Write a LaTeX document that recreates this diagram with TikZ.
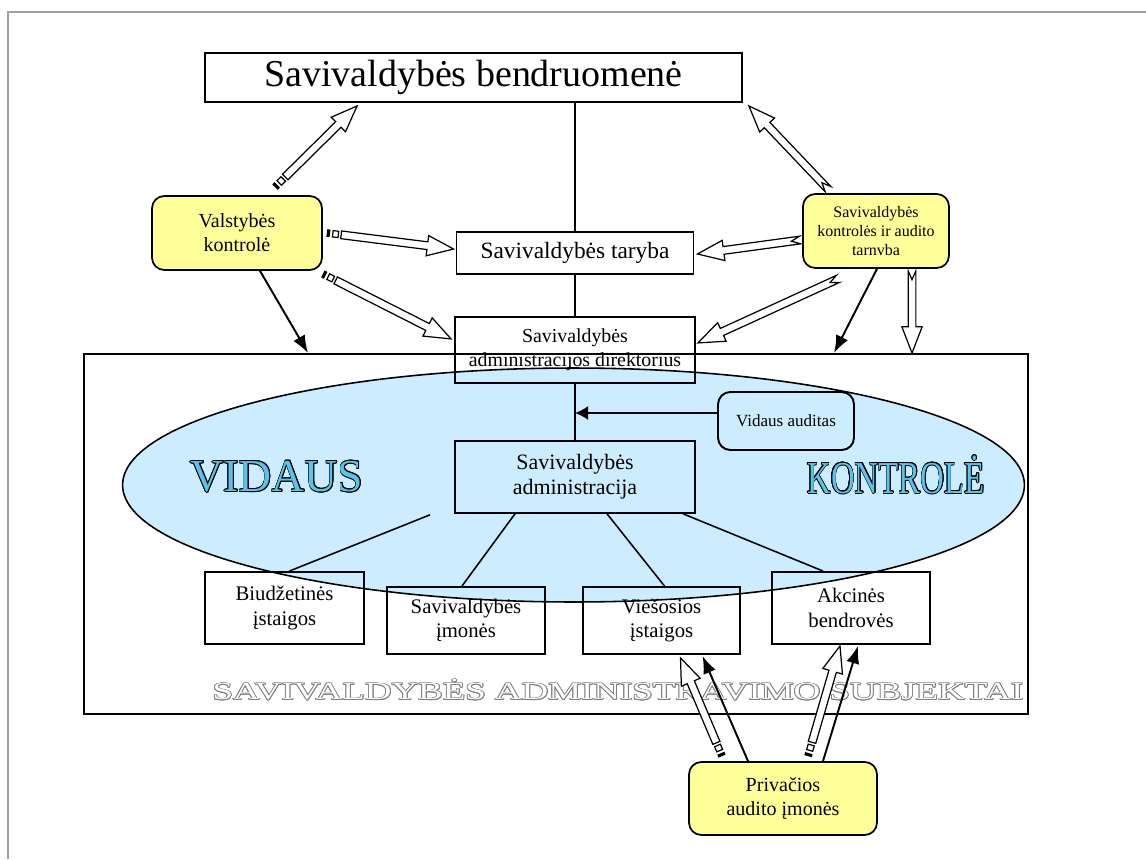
\documentclass[tikz,border=0pt]{standalone}
\usepackage{fontspec}
\setmainfont{Liberation Serif}
\usepackage{tikz}
\usetikzlibrary{arrows.meta, positioning, calc}
\usepackage{xcolor}
\usepackage{contour}
\definecolor{NoteYellow}{HTML}{FFFF99}
\definecolor{InnerBlue}{HTML}{CCECFF}
\definecolor{LetterBlue}{HTML}{5BC2EE}
\definecolor{FrameGrey}{HTML}{A0A0A0}
\definecolor{OutlineGrey}{HTML}{808080}
\newcommand{\fsz}[2]{\fontsize{#1pt}{#2pt}\selectfont}
% hollow block arrow: [notch]{tail}{tip}
\newcommand{\blockarrow}[3][0pt]{%
  \coordinate (ba-h) at ($(#3)!15pt!(#2)$);
  \draw[hollowline]
    ($(#2)!2.2pt!90:(#3)$) -- ($(ba-h)!2.2pt!90:(#3)$) -- ($(ba-h)!5.8pt!90:(#3)$) --
    (#3) --
    ($(ba-h)!5.8pt!-90:(#3)$) -- ($(ba-h)!2.2pt!-90:(#3)$) -- ($(#2)!2.2pt!-90:(#3)$) --
    ($(#2)!#1!(#3)$) -- cycle;
}
% block arrow with a bar and a square at its tail
\newcommand{\stripedarrow}[2]{%
  \coordinate (sa-a) at ($(#1)!1.8pt!(#2)$);
  \coordinate (sa-b) at ($(#1)!3.4pt!(#2)$);
  \coordinate (sa-c) at ($(#1)!6.6pt!(#2)$);
  \coordinate (sa-d) at ($(#1)!8.2pt!(#2)$);
  \fill ($(#1)!2.2pt!90:(#2)$) -- ($(sa-a)!2.2pt!90:(#2)$) -- ($(sa-a)!2.2pt!-90:(#2)$) -- ($(#1)!2.2pt!-90:(#2)$) -- cycle;
  \draw[hollowline] ($(sa-b)!1.8pt!90:(#2)$) -- ($(sa-c)!1.8pt!90:(#2)$) -- ($(sa-c)!1.8pt!-90:(#2)$) -- ($(sa-b)!1.8pt!-90:(#2)$) -- cycle;
  \blockarrow{sa-d}{#2}%
}
\tikzset{
  plainbox/.style={
    rectangle, draw=black, line width=1.1pt,
    align=center, inner sep=0pt
  },
  notebox/.style={
    rectangle, rounded corners=7pt, draw=black, line width=1pt,
    fill=NoteYellow, align=center, inner sep=0pt
  },
  link/.style={line width=0.9pt},
  solidarrow/.style={
    -{Latex[length=10pt, width=7.5pt]},
    line width=1.1pt
  },
  hollowline/.style={draw=black, fill=white, line width=0.7pt, line join=miter},
  bigword/.style={inner sep=0pt, font=\fsz{26}{30}}
}

\begin{document}
\begin{tikzpicture}[x=0.02cm, y=-0.02cm]

% ── Canvas ────────────────────────────────────────────────────────────────────

\useasboundingbox (0,0) rectangle (1146,859);
\draw[FrameGrey, line width=1.4pt] (8,859) -- (8,12) -- (1146,12);

% ── Inner control ellipse and subject frame ───────────────────────────────────

\draw[fill=InnerBlue, line width=0.9pt] (573.5,485) ellipse [x radius=9.02cm, y radius=2.34cm];

\node[plainbox, minimum width=18.88cm, minimum height=7.2cm, anchor=north west] (subj) at (83,353) {};

\node[bigword] (vidaus) at (277,477) {\contourlength{0.45pt}\contour{black}{\textcolor{LetterBlue}{VIDAUS}}};
\node[bigword] (kontrole) at (896,475) {\contourlength{0.45pt}\scalebox{0.72}[1]{\contour{black}{\textcolor{LetterBlue}{KONTROLĖ}}}};

\node[inner sep=0pt, font=\fsz{14}{16}] (subjlabel) at (618,690) {%
  \contourlength{0.35pt}\scalebox{1.5}[1]{\contour{OutlineGrey}{\textcolor{white}{SAVIVALDYBĖS ADMINISTRAVIMO SUBJEKTAI}}}};

% ── Main chain ────────────────────────────────────────────────────────────────

\node[plainbox, minimum width=10.74cm, minimum height=0.98cm, font=\fsz{21.6}{25}] (comm) at (473.5,77.5) {Savivaldybės bendruomenė};

\node[plainbox, minimum width=4.74cm, minimum height=0.84cm, font=\fsz{13.3}{16}] (council) at (575,253) {Savivaldybės taryba};

\node[plainbox, minimum width=4.8cm, minimum height=1.32cm, font=\fsz{11.3}{13.6}, below=0.82cm of council] (dir) {%
  Savivaldybės\\administracijos direktorius};

\node[plainbox, minimum width=4.8cm, minimum height=1.44cm, font=\fsz{12.5}{14.5}, below=1.12cm of dir] (admin) {%
  Savivaldybės\\administracija};

\node[plainbox, rounded corners=7pt, fill=InnerBlue, minimum width=2.72cm, minimum height=1.16cm, font=\fsz{9.7}{11.6}] (va) at (786,421) {Vidaus auditas};

% ── Control bodies ────────────────────────────────────────────────────────────

\node[notebox, minimum width=3.4cm, minimum height=1.48cm, font=\fsz{11.4}{13.7}] (vk) at (237,233) {Valstybės\\kontrolė};

\node[notebox, minimum width=2.92cm, minimum height=1.48cm, font=\fsz{9.1}{11}] (kat) at (876,231) {%
  Savivaldybės\\kontrolės ir audito\\tarnvba};

\node[notebox, minimum width=3.76cm, minimum height=1.46cm, font=\fsz{11.4}{13.7}] (pao) at (783,798.5) {%
  Privačios\\audito įmonės};

% ── Administered subjects ─────────────────────────────────────────────────────

\node[plainbox, minimum width=3.18cm, minimum height=1.44cm, font=\fsz{11.8}{14}] (c1) at (284.5,608) {Biudžetinės\\įstaigos};
\node[plainbox, minimum width=3.16cm, minimum height=1.34cm, font=\fsz{11.8}{14}] (c2) at (466,620.5) {Savivaldybės\\įmonės};
\node[plainbox, minimum width=3.14cm, minimum height=1.34cm, font=\fsz{11.8}{14}] (c3) at (661.5,620.5) {Viešosios\\įstaigos};
\node[plainbox, minimum width=3.16cm, minimum height=1.44cm, font=\fsz{11.8}{14}] (c4) at (851,608) {Akcinės\\bendrovės};

% ── Plain links ───────────────────────────────────────────────────────────────

\draw[link] (comm.south -| council.north) -- (council.north);
\draw[link] (council.south) -- (dir.north);
\draw[link] (dir.south) -- (admin.north);
\draw[-{Latex[length=7.5pt, width=8pt]}, link] ($(va.west)+(0,-8)$) -- ($(va.west -| dir.south)+(0,-8)$);

\draw[link] ($(admin.south west)+(-24,1)$) -- ($(c1.north)+(5,0)$);
\draw[link] ($(admin.south)+(-60,0)$) -- ($(c2.north)+(-4,0)$);
\draw[link] ($(admin.south)+(32,0)$) -- ($(c3.north)+(3,0)$);
\draw[link] ($(admin.south)+(108,0)$) -- ($(c4.north)+(-28,0)$);

% ── Arrow end points ──────────────────────────────────────────────────────────

\coordinate (vk-t1) at ($(vk.north)+(38,-8)$);
\coordinate (vk-h1) at ($(comm.south west)+(153,3)$);
\coordinate (vk-t2) at ($(vk.east)+(4,0)$);
\coordinate (vk-h2) at ($(council.west)+(-2,-4)$);
\coordinate (vk-t3) at ($(vk.south east)+(0,3)$);
\coordinate (vk-h3) at ($(dir.west)+(-3,-11)$);
\coordinate (vk-t4) at ($(vk.south)+(23,0)$);
\coordinate (vk-h4) at ($(subj.north west)+(225,0)$);

\coordinate (kat-t1) at ($(kat.north)+(-48,-4)$);
\coordinate (kat-h1) at ($(comm.south east)+(6,3)$);
\coordinate (kat-t2) at ($(kat.west)+(-2,9)$);
\coordinate (kat-h2) at ($(council.east)+(3,1)$);
\coordinate (kat-t3) at ($(kat.south)+(-38,10)$);
\coordinate (kat-h3) at ($(dir.east)+(2,-7)$);
\coordinate (kat-t4) at ($(kat.south)+(36,2)$);
\coordinate (kat-h4) at ($(subj.north west)+(829,0)$);
\coordinate (kat-t5) at ($(kat.south)+(1,0)$);
\coordinate (kat-h5) at ($(subj.north west)+(751,0)$);

\coordinate (pao-t1) at ($(pao.north)+(-61,-5)$);
\coordinate (pao-h1) at ($(c3.south)+(19,3)$);
\coordinate (pao-t2) at ($(pao.north)+(-35,0)$);
\coordinate (pao-h2) at ($(c3.south)+(41,1)$);
\coordinate (pao-t3) at ($(pao.north)+(25,-5)$);
\coordinate (pao-h3) at ($(c4.south)+(-11,1)$);
\coordinate (pao-t4) at ($(pao.north)+(40,0)$);
\coordinate (pao-h4) at ($(c4.south)+(7,1)$);

% ── Control arrows ────────────────────────────────────────────────────────────

\stripedarrow{vk-t1}{vk-h1}
\stripedarrow{vk-t2}{vk-h2}
\stripedarrow{vk-t3}{vk-h3}
\draw[solidarrow] (vk-t4) -- (vk-h4);

\blockarrow[5pt]{kat-t1}{kat-h1}
\blockarrow[5pt]{kat-t2}{kat-h2}
\blockarrow[5pt]{kat-t3}{kat-h3}
\blockarrow[5pt]{kat-t4}{kat-h4}
\draw[solidarrow] (kat-t5) -- (kat-h5);

\stripedarrow{pao-t1}{pao-h1}
\draw[solidarrow] (pao-t2) -- (pao-h2);
\stripedarrow{pao-t3}{pao-h3}
\draw[solidarrow] (pao-t4) -- (pao-h4);

\end{tikzpicture}
\end{document}
